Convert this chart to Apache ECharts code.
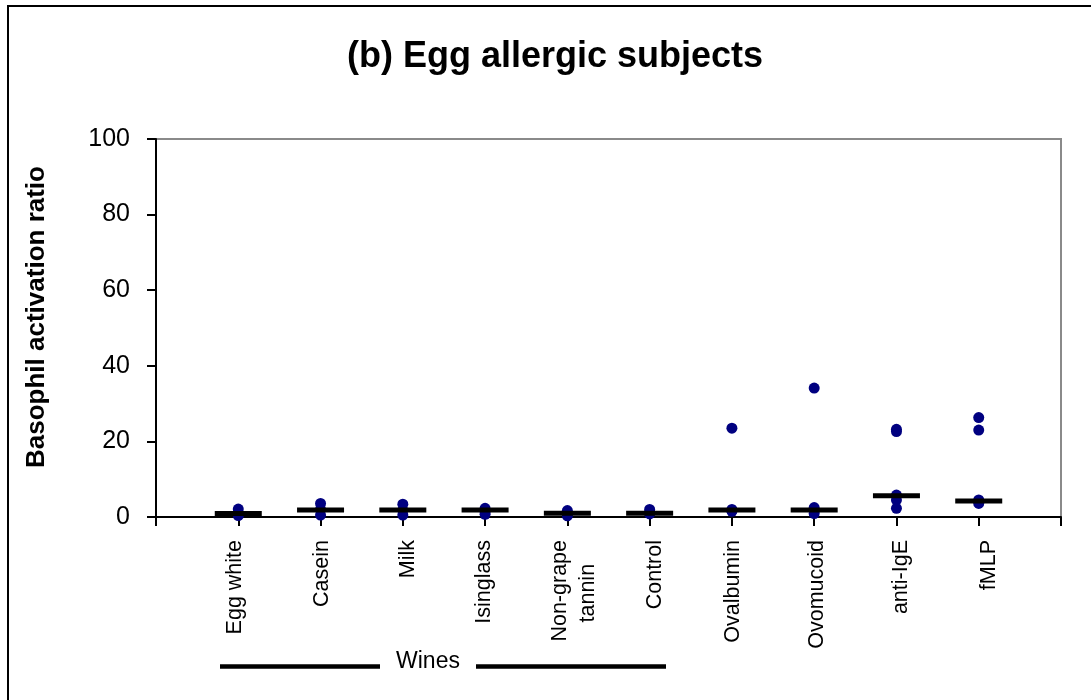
<!DOCTYPE html>
<html>
<head>
<meta charset="utf-8">
<script src="https://cdn.jsdelivr.net/npm/echarts@6/dist/echarts.min.js"></script>
<style>
html,body{margin:0;padding:0;background:#fff;}
#chart{width:1091px;height:700px;}
</style>
</head>
<body>
<div id="chart"></div>
<script>
// ---- DATA ----
const categories = ['Egg white', 'Casein', 'Milk', 'Isinglass', 'Non-grape\ntannin', 'Control', 'Ovalbumin', 'Ovomucoid', 'anti-IgE', 'fMLP'];
const eggWhite = [2.1, 1.0, 0.4];
const casein = [3.6, 2.0, 0.5];
const milk = [3.4, 1.8, 0.5];
const isinglass = [2.3, 1.4, 0.7];
const nonGrapeTannin = [1.7, 0.8, 0.3];
const control = [2.0, 1.2, 0.8];
const ovalbumin = [23.5, 2.0, 1.7, 1.5];
const ovomucoid = [34.1, 2.5, 1.6, 0.9];
const antiIgE = [23.2, 22.6, 5.8, 4.5, 2.3];
const fMLP = [26.3, 23.0, 4.5, 3.6];
const subjectValues = [eggWhite, casein, milk, isinglass, nonGrapeTannin, control, ovalbumin, ovomucoid, antiIgE, fMLP];
const medians = [0.9, 1.85, 1.85, 1.85, 1.0, 1.0, 1.85, 1.85, 5.6, 4.2];
const yTicks = [0, 20, 40, 60, 80, 100];
const groupLabel = 'Wines';
const titleText = '(b) Egg allergic subjects';
const yTitle = 'Basophil activation ratio';

// ---- LAYOUT ----
const FONT = 'Arial, "Liberation Sans", sans-serif';
// small label placement shift relative to each category tick (axis units), as in the reference
const labelShift = [-0.04, 0.02, 0.07, -0.01, 0.08, 0.07, 0.02, 0.04, 0.06, 0.12];

const pointData = [];
subjectValues.forEach((arr, i) => arr.forEach(v => pointData.push([i + 1, v])));
const medianData = medians.map((v, i) => [i + 1, v]);
const labelValues = categories.map((c, i) => i + 1 + labelShift[i]);

function labelText(c) {
  if (c.indexOf('\n') >= 0) {
    const parts = c.split('\n');
    return parts[0] + '\n' + parts[1] + '\u00a0\u00a0\u00a0\u00a0';
  }
  return c;
}

const chart = echarts.init(document.getElementById('chart'));
chart.setOption({
  animation: false,
  backgroundColor: '#fff',
  title: {
    text: titleText,
    left: 342,
    top: 34,
    textStyle: { fontFamily: FONT, fontSize: 36, fontWeight: 'bold', color: '#000' }
  },
  grid: {
    left: 156, right: 30, top: 139, bottom: 183,
    show: true, borderColor: '#8a8a8a', borderWidth: 2, backgroundColor: 'transparent'
  },
  xAxis: {
    type: 'value', min: 0, max: 11, interval: 1,
    axisLine: { show: true, onZero: false, lineStyle: { color: '#000', width: 2 } },
    axisTick: { show: true, inside: false, length: 9, lineStyle: { color: '#000', width: 2 } },
    splitLine: { show: false },
    axisLabel: {
      show: true,
      customValues: labelValues,
      rotate: 90,
      margin: 23,
      fontFamily: FONT, fontSize: 21.5, lineHeight: 28, color: '#000',
      formatter: function (val) {
        const idx = Math.round(val) - 1;
        return categories[idx] ? labelText(categories[idx]) : '';
      }
    }
  },
  yAxis: {
    type: 'value', min: 0, max: 100, interval: 20,
    name: yTitle,
    nameLocation: 'middle',
    nameRotate: 90,
    nameGap: 106,
    nameTextStyle: { fontFamily: FONT, fontSize: 26, fontWeight: 'bold', color: '#000', padding: [0, 0, 0, 22] },
    axisLine: { show: true, lineStyle: { color: '#000', width: 2 } },
    axisTick: { show: true, inside: false, length: 9, lineStyle: { color: '#000', width: 2 } },
    splitLine: { show: false },
    axisLabel: {
      fontFamily: FONT, fontSize: 25, color: '#000', margin: 26,
      formatter: function (v) { return yTicks.indexOf(v) >= 0 ? String(v) : ''; }
    }
  },
  series: [
    {
      type: 'scatter',
      data: pointData,
      symbol: 'circle',
      symbolSize: 11,
      itemStyle: { color: '#000080', opacity: 1 },
      z: 2
    },
    {
      type: 'scatter',
      data: medianData,
      symbol: 'rect',
      symbolSize: [47, 5],
      itemStyle: { color: '#000', opacity: 1 },
      z: 3
    }
  ],
  graphic: [
    { type: 'rect', shape: { x: 8, y: 6, width: 1300, height: 900 }, style: { fill: 'none', stroke: '#000', lineWidth: 2 }, silent: true },
    { type: 'line', shape: { x1: 220, y1: 666.5, x2: 380, y2: 666.5 }, style: { stroke: '#000', lineWidth: 4.5 } },
    { type: 'line', shape: { x1: 476, y1: 666.5, x2: 666, y2: 666.5 }, style: { stroke: '#000', lineWidth: 4.5 } },
    { type: 'text', x: 428, y: 662, style: { text: groupLabel, font: '23px ' + FONT, fill: '#000', textAlign: 'center', textVerticalAlign: 'middle' } }
  ]
});
</script>
</body>
</html>
